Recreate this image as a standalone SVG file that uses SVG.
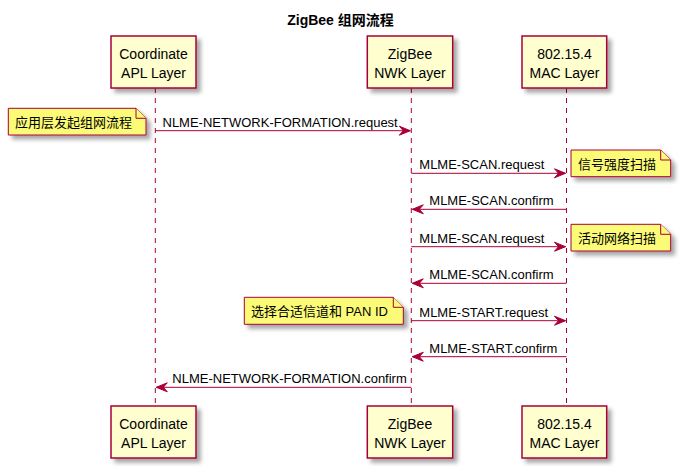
<svg xmlns="http://www.w3.org/2000/svg" width="681" height="469" viewBox="0 0 681 469">
<defs>
<filter id="sh" x="-10%" y="-10%" width="130%" height="140%">
<feGaussianBlur in="SourceAlpha" stdDeviation="2" result="b"/>
<feOffset in="b" dx="4" dy="4" result="o"/>
<feComponentTransfer in="o" result="s"><feFuncA type="linear" slope="0.35"/></feComponentTransfer>
<feMerge><feMergeNode in="s"/><feMergeNode in="SourceGraphic"/></feMerge>
</filter>
<marker id="ah" viewBox="0 0 12 9" markerWidth="12" markerHeight="9" refX="11" refY="4.5" orient="auto" markerUnits="userSpaceOnUse" overflow="visible">
<polygon points="0,0 11,4.5 0,9 4,4.5" fill="#A80036" stroke="#A80036" stroke-width="1"/>
</marker>
</defs>
<style>
text{font-family:"Liberation Sans",Arial,"Noto Sans CJK SC",sans-serif;fill:#000}
.title{font-size:14px;font-weight:bold}
.pt{font-size:14px;text-anchor:middle}
.msg{font-size:13px}
.note{font-size:13px}
.box{fill:#FEFECE;stroke:#A80036;stroke-width:1.5}
.life{stroke:#A80036;stroke-width:1;stroke-dasharray:5,5}
.arr{stroke:#A80036;stroke-width:1;fill:none;marker-end:url(#ah)}
.nb{fill:#FBFB77;stroke:#A80036;stroke-width:1}
</style>
<rect width="681" height="469" fill="#FFFFFF"/>
<text class="title" x="340.5" y="25" text-anchor="middle">ZigBee 组网流程</text>

<g id="lifelines">
<line class="life" x1="155.3" y1="88" x2="155.3" y2="406"/>
<line class="life" x1="411.3" y1="88" x2="411.3" y2="406"/>
<line class="life" x1="566.5" y1="88" x2="566.5" y2="406"/>
</g>

<g id="p_apl">
<rect class="box" x="111" y="36" width="85" height="52" filter="url(#sh)"/>
<text class="pt" x="153.5" y="58.5">Coordinate</text>
<text class="pt" x="153.5" y="77.5">APL Layer</text>
<rect class="box" x="111" y="406" width="85" height="52" filter="url(#sh)"/>
<text class="pt" x="153.5" y="428.5">Coordinate</text>
<text class="pt" x="153.5" y="448">APL Layer</text>
</g>

<g id="p_nwk">
<rect class="box" x="367.3" y="36" width="85.4" height="52" filter="url(#sh)"/>
<text class="pt" x="410" y="58.5">ZigBee</text>
<text class="pt" x="410" y="77.5">NWK Layer</text>
<rect class="box" x="367.3" y="406" width="85.4" height="52" filter="url(#sh)"/>
<text class="pt" x="410" y="428.5">ZigBee</text>
<text class="pt" x="410" y="448">NWK Layer</text>
</g>

<g id="p_mac">
<rect class="box" x="522" y="36" width="84.7" height="52" filter="url(#sh)"/>
<text class="pt" x="564.5" y="58.5">802.15.4</text>
<text class="pt" x="564.5" y="77.5">MAC Layer</text>
<rect class="box" x="522" y="406" width="84.7" height="52" filter="url(#sh)"/>
<text class="pt" x="564.5" y="428.5">802.15.4</text>
<text class="pt" x="564.5" y="448">MAC Layer</text>
</g>

<g id="connectors">
<line class="arr" x1="155.3" y1="130.7" x2="410.3" y2="130.7"/>
<text class="msg" x="162.5" y="126.5">NLME-NETWORK-FORMATION.request</text>
<line class="arr" x1="411.3" y1="173.3" x2="565.5" y2="173.3"/>
<text class="msg" x="419.3" y="169">MLME-SCAN.request</text>
<line class="arr" x1="566.5" y1="209.3" x2="412.3" y2="209.3"/>
<text class="msg" x="429.3" y="205">MLME-SCAN.confirm</text>
<line class="arr" x1="411.3" y1="246.7" x2="565.5" y2="246.7"/>
<text class="msg" x="419.3" y="242.5">MLME-SCAN.request</text>
<line class="arr" x1="566.5" y1="283.3" x2="412.3" y2="283.3"/>
<text class="msg" x="429.3" y="279">MLME-SCAN.confirm</text>
<line class="arr" x1="411.3" y1="320.7" x2="565.5" y2="320.7"/>
<text class="msg" x="419.3" y="316.5">MLME-START.request</text>
<line class="arr" x1="566.5" y1="356.7" x2="412.3" y2="356.7"/>
<text class="msg" x="429.3" y="352.5">MLME-START.confirm</text>
<line class="arr" x1="411.3" y1="387.3" x2="156.3" y2="387.3"/>
<text class="msg" x="172.3" y="383">NLME-NETWORK-FORMATION.confirm</text>
</g>

<g id="note1">
<path class="nb" d="M8.3,108.3 L8.3,135 L146,135 L146,118.3 L136,108.3 Z" filter="url(#sh)"/>
<path class="nb" d="M136,108.3 L136,118.3 L146,118.3"/>
<text class="note" x="15" y="126.5">应用层发起组网流程</text>
</g>

<g id="note2">
<path class="nb" d="M571,150 L571,176.7 L670.7,176.7 L670.7,160 L660.7,150 Z" filter="url(#sh)"/>
<path class="nb" d="M660.7,150 L660.7,160 L670.7,160"/>
<text class="note" x="578" y="168.5">信号强度扫描</text>
</g>

<g id="note3">
<path class="nb" d="M571,224.3 L571,251 L670.7,251 L670.7,234.3 L660.7,224.3 Z" filter="url(#sh)"/>
<path class="nb" d="M660.7,224.3 L660.7,234.3 L670.7,234.3"/>
<text class="note" x="578" y="242.5">活动网络扫描</text>
</g>

<g id="note4">
<path class="nb" d="M244.3,297.3 L244.3,324.3 L403.3,324.3 L403.3,307.3 L393.3,297.3 Z" filter="url(#sh)"/>
<path class="nb" d="M393.3,297.3 L393.3,307.3 L403.3,307.3"/>
<text class="note" x="251" y="316">选择合适信道和 PAN ID</text>
</g>
</svg>
